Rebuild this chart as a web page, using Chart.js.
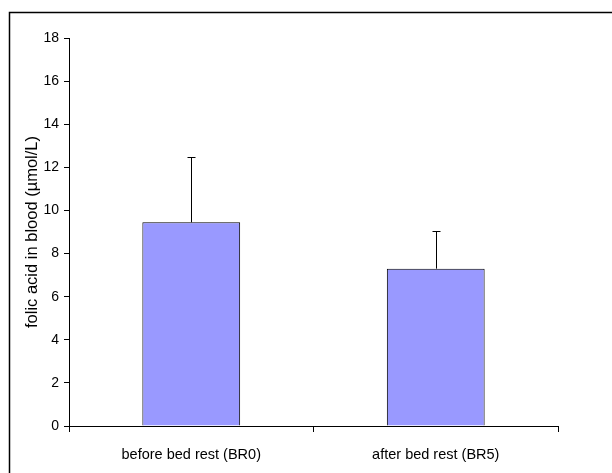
<!DOCTYPE html>
<html>
<head>
<meta charset="utf-8">
<script src="https://cdn.jsdelivr.net/npm/chart.js@4"></script>
<style>
  html, body { margin: 0; padding: 0; background: #fff; }
  #wrap { width: 612px; height: 473px; }
</style>
</head>
<body>
<div id="wrap"><canvas id="bar-chart"></canvas></div>
<script>
const categories = ['before bed rest (BR0)', 'after bed rest (BR5)'];
const folicAcid = [9.45, 7.3];
const errorTop = [12.5, 9.05];
const yTicks = [0, 2, 4, 6, 8, 10, 12, 14, 16, 18];

Chart.defaults.font.family = '"Liberation Sans", Arial, sans-serif';
Chart.defaults.color = '#000';

// outer frame, runs off the right and bottom like the original
const framePlugin = {
    id: 'frame',
    beforeDraw(chart) {
        const c = chart.ctx;
        c.save();
        c.strokeStyle = '#000';
        c.lineWidth = 1.5;
        c.strokeRect(9.5, 12.5, 1000, 1000);
        c.restore();
    }
};

// error bars (upper only)
const errorPlugin = {
    id: 'errorBars',
    afterDatasetsDraw(chart) {
        const c = chart.ctx;
        const y = chart.scales.y;
        const meta = chart.getDatasetMeta(0);
        c.save();
        c.strokeStyle = '#000';
        c.lineWidth = 1;
        meta.data.forEach((bar, i) => {
            const x = Math.round(bar.x) + 0.5;
            const yTop = Math.round(y.getPixelForValue(errorTop[i])) + 0.5;
            c.beginPath();
            c.moveTo(x, bar.y);
            c.lineTo(x, yTop);
            c.moveTo(x - 4, yTop);
            c.lineTo(x + 4, yTop);
            c.stroke();
        });
        c.restore();
    }
};

const ctx = document.getElementById('bar-chart').getContext('2d');

const barChart = new Chart(ctx, {
    type: 'bar',
    data: {
        labels: categories,
        datasets: [{
            data: folicAcid,
            backgroundColor: '#9999FF',
            borderColor: '#000',
            borderWidth: 1,
            barPercentage: 0.4,
            categoryPercentage: 1
        }]
    },
    options: {
        responsive: true,
        maintainAspectRatio: false,
        animation: false,
        layout: {
            padding: { left: 0, top: 38, right: 54, bottom: 0 }
        },
        plugins: {
            legend: { display: false },
            tooltip: { enabled: false }
        },
        scales: {
            x: {
                afterFit(scale) { scale.height = 47; },
                grid: {
                    drawOnChartArea: false,
                    drawTicks: true,
                    tickLength: 6,
                    color: '#000'
                },
                border: { color: '#000', width: 1 },
                ticks: { font: { size: 14.5 }, padding: 14 }
            },
            y: {
                min: 0,
                max: 18,
                afterFit(scale) { scale.width = 69; },
                afterBuildTicks(scale) {
                    scale.ticks = yTicks.map(v => ({ value: v }));
                },
                grid: {
                    drawOnChartArea: false,
                    drawTicks: true,
                    tickLength: 5,
                    color: '#000'
                },
                border: { color: '#000', width: 1 },
                ticks: { font: { size: 14 }, padding: 5 },
                title: {
                    display: true,
                    text: 'folic acid in blood (µmol/L)',
                    font: { size: 16.5 },
                    padding: { top: 23, bottom: 0 }
                }
            }
        }
    },
    plugins: [framePlugin, errorPlugin]
});
</script>
</body>
</html>
